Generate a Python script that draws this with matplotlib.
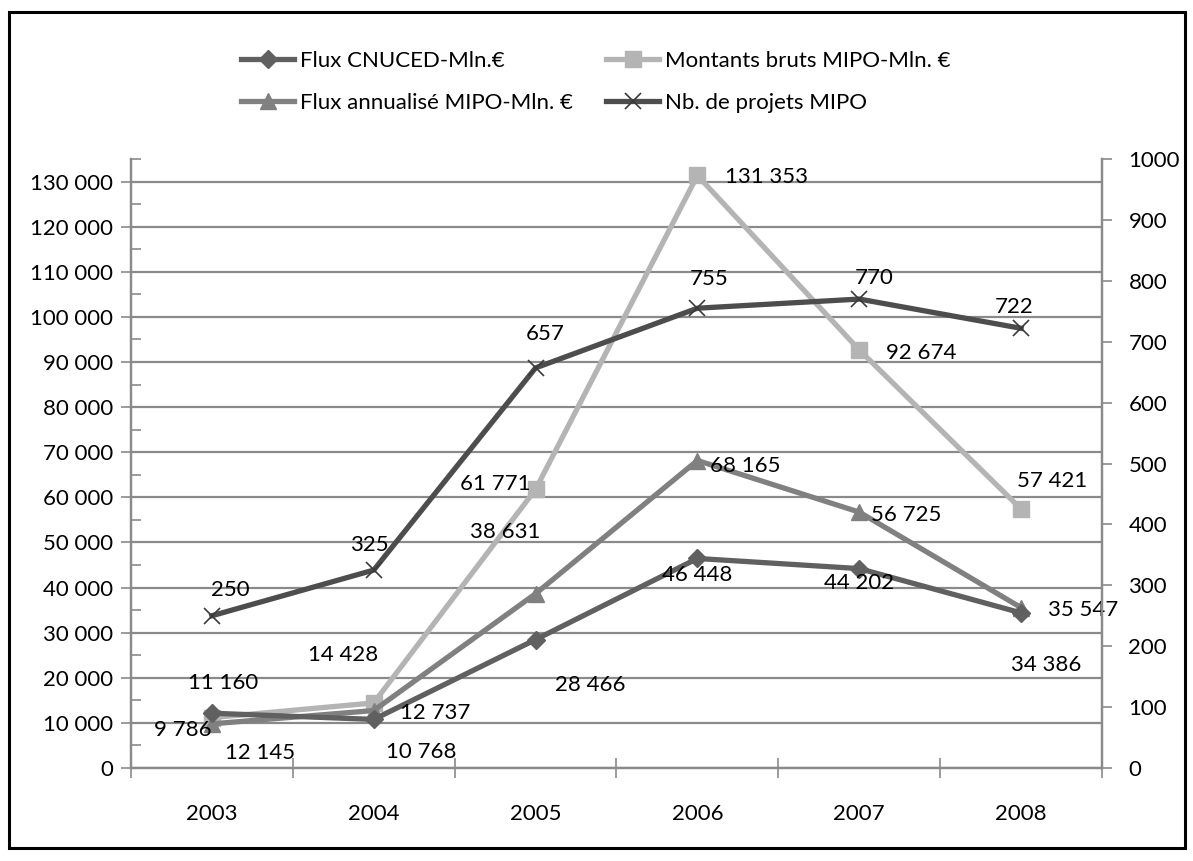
import matplotlib
matplotlib.use("Agg")
import matplotlib.pyplot as plt
from matplotlib.patches import Rectangle
from matplotlib.ticker import MultipleLocator, FuncFormatter

plt.rcParams['font.family'] = ['Lato', 'DejaVu Sans']

years = ['2003', '2004', '2005', '2006', '2007', '2008']
flux_cnuced = [12145, 10768, 28466, 46448, 44202, 34386]
montants_bruts = [11160, 14428, 61771, 131353, 92674, 57421]
flux_annualise = [9786, 12737, 38631, 68165, 56725, 35547]
nb_projets = [250, 325, 657, 755, 770, 722]

labels = ['Flux CNUCED-Mln.€', 'Montants bruts MIPO-Mln. €',
          'Flux annualisé MIPO-Mln. €', 'Nb. de projets MIPO']

# label offsets in pixels (dx right, dy down)
off_cnuced = [(48, 40), (48, 33), (55, 45), (0, 17), (0, 14), (25, 52)]
off_montants = [(11, -35), (-31, -48), (-40, -5), (69, 2), (62, 3), (31, -28)]
off_annual = [(-29, 6), (61, 2), (-30, -62), (48, 5), (47, 3), (62, 2)]
off_nb = [(18, -26), (-4, -25), (10, -34), (12, -29), (15, -21), (-7, -21)]

W, H = 1193, 861
fig = plt.figure(figsize=(W / 100, H / 100), dpi=100)
ax = fig.add_axes([131 / W, (H - 768) / H, (1102 - 131) / W, (768 - 159) / H])
ax2 = ax.twinx()

x = list(range(len(years)))
c1, c2, c3, c4 = '#606060', '#b4b4b4', '#808080', '#4d4d4d'
lw = 3.8

l1, = ax.plot(x, flux_cnuced, color=c1, lw=lw, marker='D', ms=9, mfc=c1, mec=c1, zorder=4)
l2, = ax.plot(x, montants_bruts, color=c2, lw=lw, marker='s', ms=12, mfc=c2, mec=c2, zorder=3)
l3, = ax.plot(x, flux_annualise, color=c3, lw=lw, marker='^', ms=12, mfc=c3, mec=c3, zorder=3.5)
l4, = ax2.plot(x, nb_projets, color=c4, lw=lw, marker='x', ms=12, mew=1.2, mec='#3a3a3a', zorder=4)

fs = 16

def fmt(v):
    return f"{v:,}".replace(',', ' ')

def annotate(axis, vals, offs):
    for xi, v, (dx, dy) in zip(x, vals, offs):
        axis.annotate(fmt(v), (xi, v), xytext=(dx * 0.72, -dy * 0.72),
                      textcoords='offset points', ha='center', va='center',
                      fontsize=fs, color='black', zorder=6)

annotate(ax, flux_cnuced, off_cnuced)
annotate(ax, montants_bruts, off_montants)
annotate(ax, flux_annualise, off_annual)
annotate(ax2, nb_projets, off_nb)

grid_c = '#8a8a8a'
ax.set_xlim(-0.5, 5.5)
ax.set_ylim(0, 135000)
ax2.set_ylim(0, 1000)

ax.yaxis.set_major_locator(MultipleLocator(10000))
ax.yaxis.set_minor_locator(MultipleLocator(5000))
ax.yaxis.set_major_formatter(FuncFormatter(lambda v, p: fmt(int(v))))
ax.grid(axis='y', which='major', color=grid_c, lw=1.6)
ax.set_axisbelow(True)

ax.set_xticks([i - 0.5 for i in range(len(years) + 1)])
ax.set_xticklabels([])
ax.set_xticks(x, minor=True)
ax.set_xticklabels(years, minor=True)
ax.tick_params(axis='x', which='major', direction='inout', length=14, width=1.2, color=grid_c)
ax.tick_params(axis='x', which='minor', length=0, pad=26, labelsize=fs)
ax.tick_params(axis='y', which='major', direction='inout', length=14, width=1.2, color=grid_c, labelsize=fs, pad=6)
ax.tick_params(axis='y', which='minor', direction='in', length=7, width=1.2, color=grid_c)

ax2.yaxis.set_major_locator(MultipleLocator(100))
ax2.tick_params(axis='y', direction='out', length=7, width=1.2, color=grid_c, labelsize=fs, pad=12)

for a in (ax, ax2):
    a.spines['top'].set_visible(False)
    for s in ('left', 'right', 'bottom'):
        a.spines[s].set_color(grid_c)
        a.spines[s].set_linewidth(1.6)

# outer frame
frame = Rectangle((9 / W, 1 - 848 / H), (1185 - 9) / W, (848 - 12) / H,
                  transform=fig.transFigure, fill=False, ec='black', lw=2.2, zorder=10)
fig.patches.append(frame)
clip = Rectangle((10 / W, 0), 1, 1, transform=fig.transFigure)
for t in ax.get_yticklabels():
    t.set_clip_on(True)
    t.set_clip_path(clip)

leg = fig.legend([l1, l3, l2, l4], [labels[0], labels[2], labels[1], labels[3]],
                 ncol=2, loc='upper left', bbox_to_anchor=(232 / W, 1 - 42 / H),
                 frameon=False, fontsize=fs, handlelength=2.4, handletextpad=0.25,
                 columnspacing=1.5, labelspacing=1.0, borderaxespad=0)

fig.savefig('out.png', dpi=100)
